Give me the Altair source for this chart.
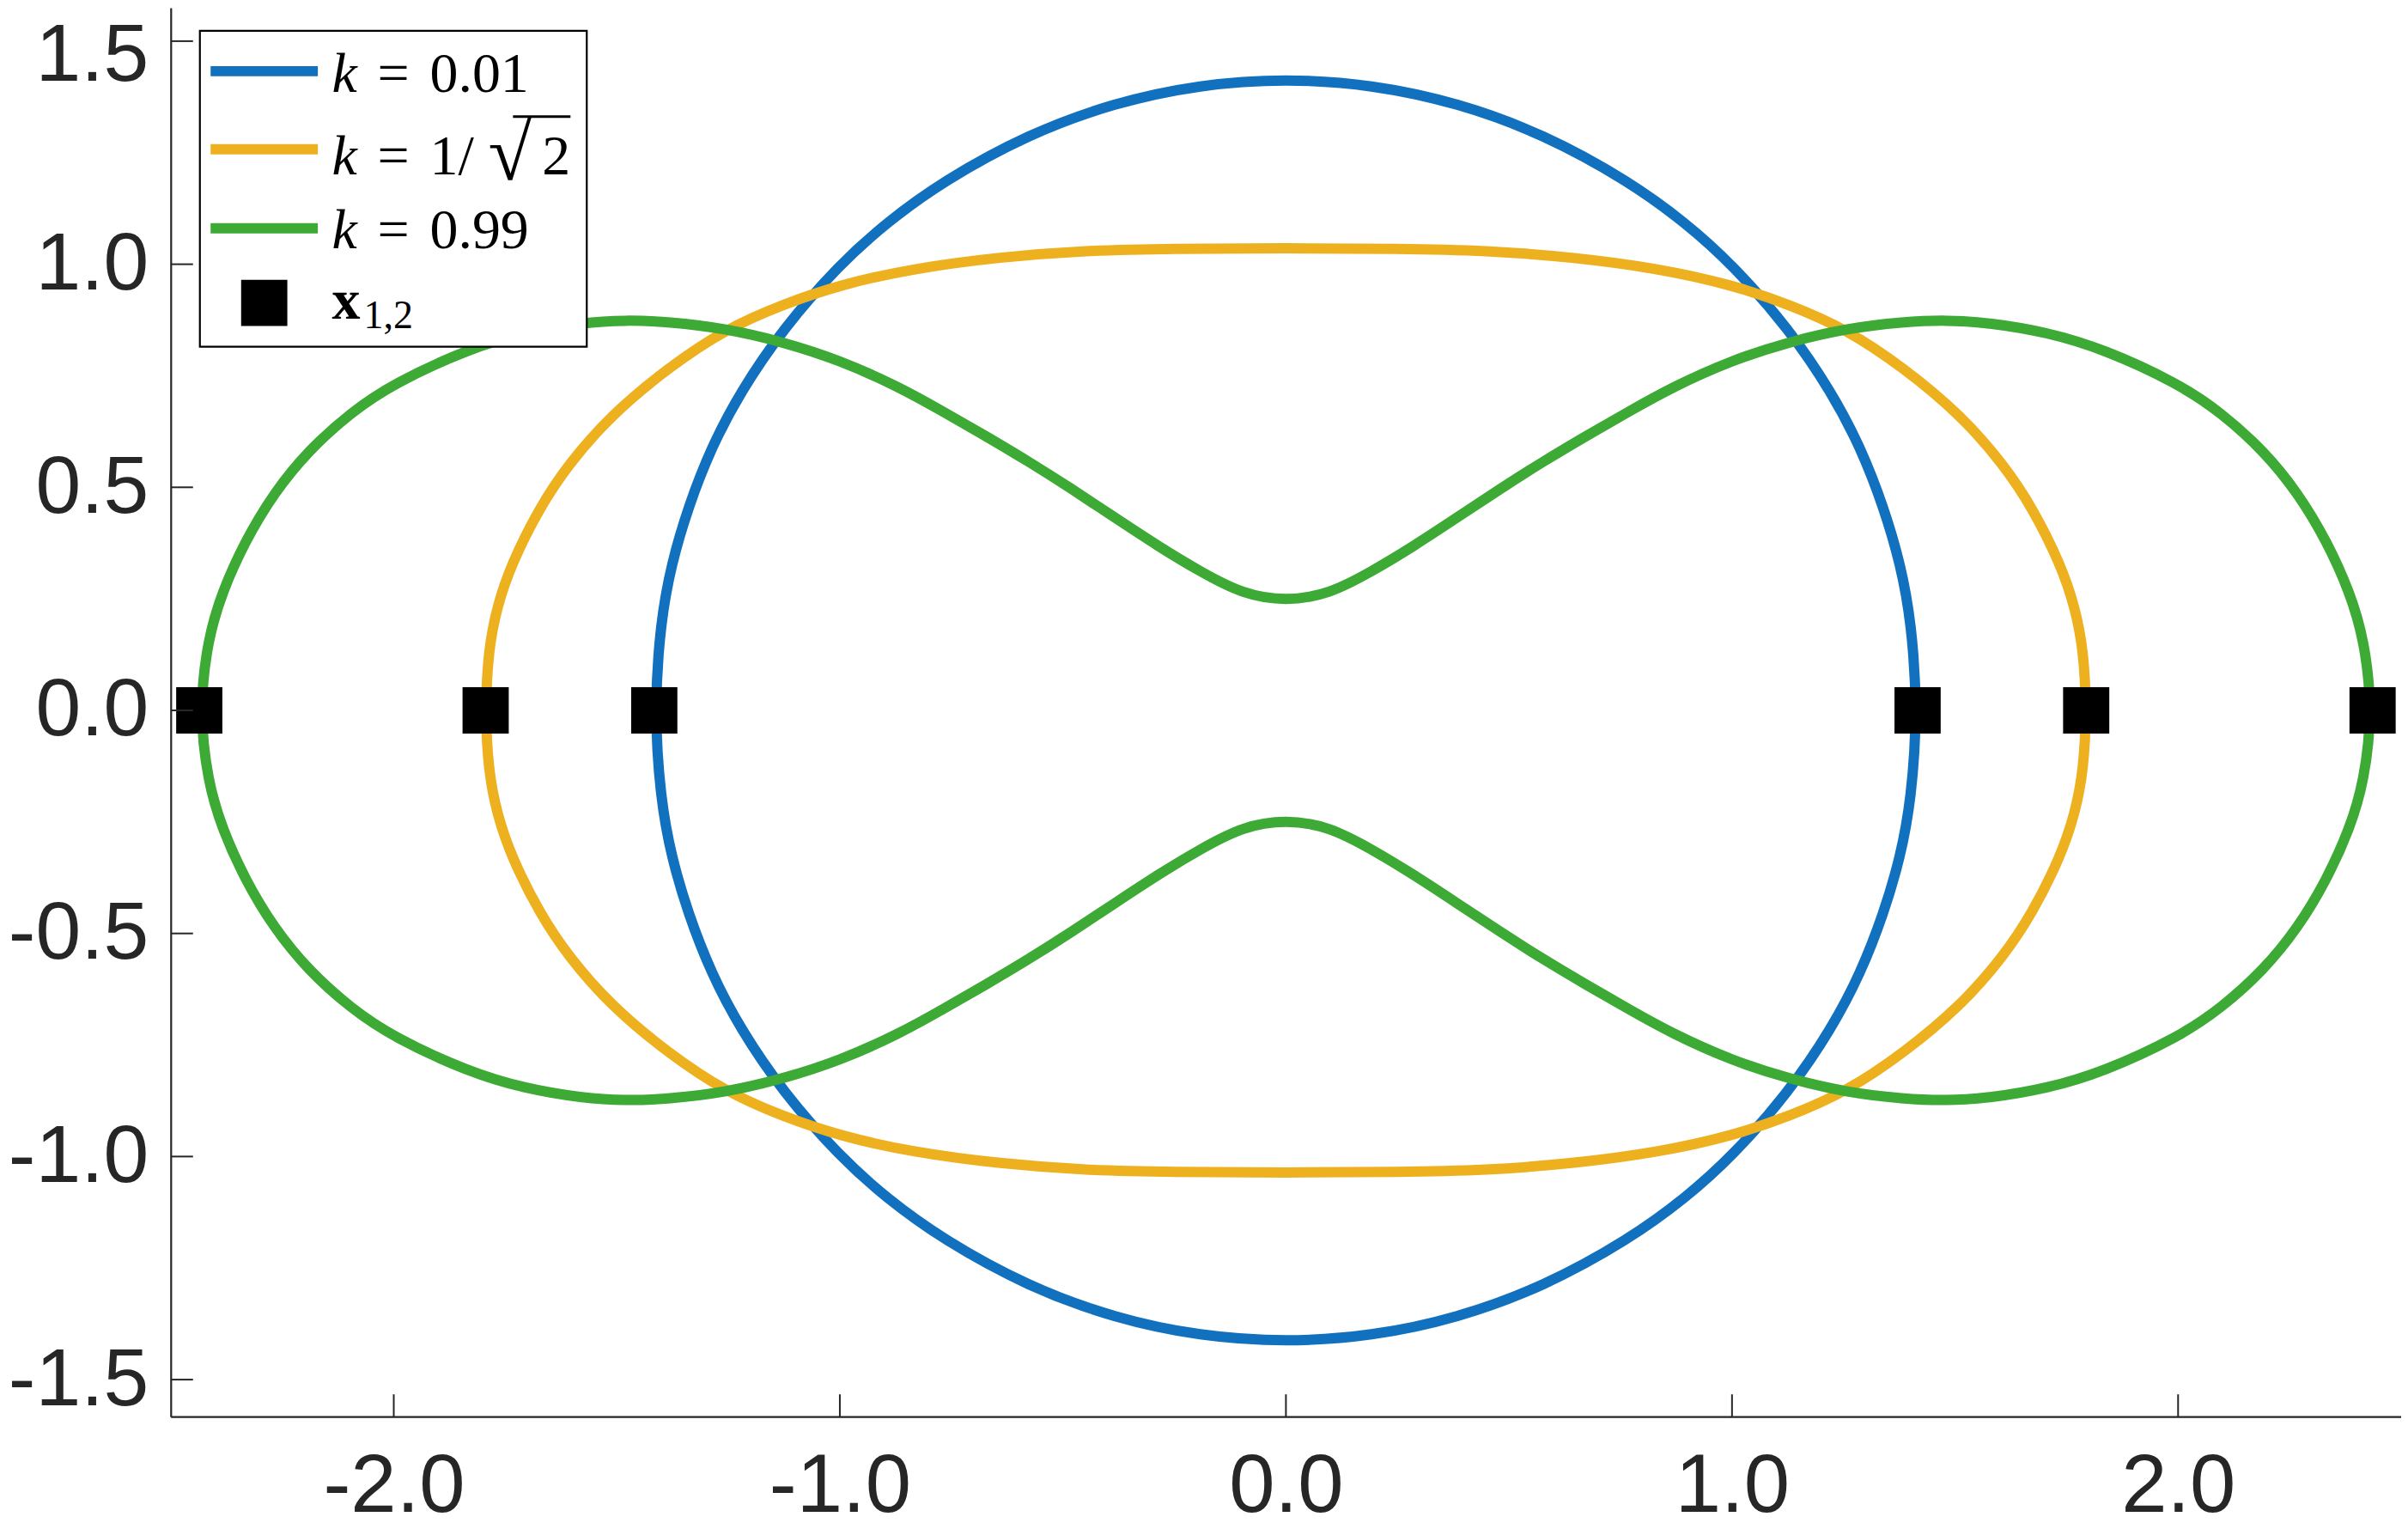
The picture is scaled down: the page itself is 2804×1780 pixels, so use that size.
import altair as alt
import pandas as pd

# ---- curve data, closed loops ----
BLUE_X = [1.416, 1.402, 1.378, 1.340, 1.288, 1.224, 1.128, 1.000, 0.897, 0.769, 0.577, 0.385, 0.192, 0.000,
          -0.192, -0.385, -0.577, -0.769, -0.897, -1.000, -1.128, -1.224, -1.288, -1.340, -1.378, -1.402,
          -1.416, -1.402, -1.378, -1.340, -1.288, -1.224, -1.128, -1.000, -0.897, -0.769, -0.577, -0.385, -0.192, 0.000,
          0.192, 0.385, 0.577, 0.769, 0.897, 1.000, 1.128, 1.224, 1.288, 1.340, 1.378, 1.402]
BLUE_Y = [0.000, 0.199, 0.327, 0.456, 0.590, 0.712, 0.855, 1.000, 1.092, 1.186, 1.292, 1.362, 1.403, 1.416,
          1.403, 1.362, 1.292, 1.186, 1.092, 1.000, 0.855, 0.712, 0.590, 0.456, 0.327, 0.199,
          0.000, -0.199, -0.327, -0.456, -0.590, -0.712, -0.855, -1.000, -1.092, -1.186, -1.292, -1.362, -1.403, -1.416,
          -1.403, -1.362, -1.292, -1.186, -1.092, -1.000, -0.855, -0.712, -0.590, -0.456, -0.327, -0.199]

ORANGE_X = [1.795, 1.788, 1.769, 1.737, 1.673, 1.609, 1.513, 1.385, 1.256, 1.128, 1.000, 0.833, 0.641, 0.449, 0.256, 0.000,
            -0.256, -0.449, -0.641, -0.833, -1.000, -1.128, -1.256, -1.385, -1.513, -1.609, -1.673, -1.737, -1.769, -1.788,
            -1.795, -1.788, -1.769, -1.737, -1.673, -1.609, -1.513, -1.385, -1.256, -1.128, -1.000, -0.833, -0.641, -0.449, -0.256, 0.000,
            0.256, 0.449, 0.641, 0.833, 1.000, 1.128, 1.256, 1.385, 1.513, 1.609, 1.673, 1.737, 1.769, 1.788]
ORANGE_Y = [0.000, 0.135, 0.231, 0.327, 0.455, 0.551, 0.662, 0.768, 0.855, 0.910, 0.954, 0.991, 1.016, 1.031, 1.035, 1.036,
            1.035, 1.031, 1.016, 0.991, 0.954, 0.910, 0.855, 0.768, 0.662, 0.551, 0.455, 0.327, 0.231, 0.135,
            0.000, -0.135, -0.231, -0.327, -0.455, -0.551, -0.662, -0.768, -0.855, -0.910, -0.954, -0.991, -1.016, -1.031, -1.035, -1.036,
            -1.035, -1.031, -1.016, -0.991, -0.954, -0.910, -0.855, -0.768, -0.662, -0.551, -0.455, -0.327, -0.231, -0.135]

GREEN_X = [2.436, 2.417, 2.385, 2.333, 2.269, 2.192, 2.096, 2.000, 1.833, 1.705, 1.577, 1.481, 1.385, 1.256, 1.128, 1.000,
           0.865, 0.769, 0.673, 0.577, 0.481, 0.385, 0.288, 0.192, 0.096, 0.000,
           -0.096, -0.192, -0.288, -0.385, -0.481, -0.577, -0.673, -0.769, -0.865,
           -1.000, -1.128, -1.256, -1.385, -1.481, -1.577, -1.705, -1.833, -2.000, -2.096, -2.192, -2.269, -2.333, -2.385, -2.417,
           -2.436, -2.417, -2.385, -2.333, -2.269, -2.192, -2.096, -2.000, -1.833, -1.705, -1.577, -1.481, -1.385, -1.256, -1.128, -1.000,
           -0.865, -0.769, -0.673, -0.577, -0.481, -0.385, -0.288, -0.192, -0.096, 0.000,
           0.096, 0.192, 0.288, 0.385, 0.481, 0.577, 0.673, 0.769, 0.865,
           1.000, 1.128, 1.256, 1.385, 1.481, 1.577, 1.705, 1.833, 2.000, 2.096, 2.192, 2.269, 2.333, 2.385, 2.417]
GREEN_Y = [0.000, 0.160, 0.265, 0.380, 0.487, 0.582, 0.668, 0.733, 0.810, 0.848, 0.869, 0.875, 0.871, 0.856, 0.826, 0.785,
           0.724, 0.670, 0.615, 0.558, 0.497, 0.433, 0.369, 0.311, 0.260, 0.245,
           0.260, 0.311, 0.369, 0.433, 0.497, 0.558, 0.615, 0.670, 0.724,
           0.785, 0.826, 0.856, 0.871, 0.875, 0.869, 0.848, 0.810, 0.733, 0.668, 0.582, 0.487, 0.380, 0.265, 0.160,
           0.000, -0.160, -0.265, -0.380, -0.487, -0.582, -0.668, -0.733, -0.810, -0.848, -0.869, -0.875, -0.871, -0.856, -0.826, -0.785,
           -0.724, -0.670, -0.615, -0.558, -0.497, -0.433, -0.369, -0.311, -0.260, -0.245,
           -0.260, -0.311, -0.369, -0.433, -0.497, -0.558, -0.615, -0.670, -0.724,
           -0.785, -0.826, -0.856, -0.871, -0.875, -0.869, -0.848, -0.810, -0.733, -0.668, -0.582, -0.487, -0.380, -0.265, -0.160]

# points x_{1,2}
PTS_X = [-2.436, -1.794, -1.416, 1.416, 1.794, 2.436]
PTS_Y = [0.0, 0.0, 0.0, 0.0, 0.0, 0.0]

SERIES = ["k = 0.01", "k = 1/√2", "k = 0.99"]
COLORS = ["#1271be", "#edb120", "#3caa34"]
LEG_VALUES = ["0.01", "1/", "0.99"]

TICKS_X = [-2, -1, 0, 1, 2]
TICKS_Y = [-1.5, -1.0, -0.5, 0.0, 0.5, 1.0, 1.5]

# ---- layout ----
W, H = 2600, 1642
XDOM = [-2.5, 2.5]
YDOM = [-1.583, 1.575]
AX = "#262626"
LW = 12

xs = alt.Scale(domain=XDOM, nice=False, zero=False)
ys = alt.Scale(domain=YDOM, nice=False, zero=False)
lab_expr = "(datum.value < 0 ? '-' : '') + format(abs(datum.value), '.1f')"
AXX = alt.Axis(values=TICKS_X, labelExpr=lab_expr, title=None, grid=False, ticks=False, tickSize=0,
               labelFontSize=96, labelFont="Liberation Sans", labelColor=AX, domainColor=AX,
               domainWidth=2.2, labelPadding=34, labelFlush=False, labelOverlap=False)
AXY = alt.Axis(values=TICKS_Y, labelExpr=lab_expr, title=None, grid=False, ticks=False, tickSize=0,
               labelFontSize=95, labelFont="Liberation Sans", labelColor=AX, domainColor=AX,
               domainWidth=2.2, labelPadding=26, labelFlush=False, labelOverlap=False,
               labelOffset={"condition": {"test": "datum.value > 1.4", "value": 17}, "value": 0})

curves = [(SERIES[0], BLUE_X, BLUE_Y, COLORS[0]),
          (SERIES[1], ORANGE_X, ORANGE_Y, COLORS[1]),
          (SERIES[2], GREEN_X, GREEN_Y, COLORS[2])]

layers = []
for name, cx, cy, col in curves:
    df = pd.DataFrame({"x": cx, "y": cy, "i": list(range(len(cx))), "s": name})
    layers.append(alt.Chart(df).mark_line(color=col, strokeWidth=LW, interpolate="basis-closed")
                  .encode(x=alt.X("x:Q", scale=xs, axis=AXX), y=alt.Y("y:Q", scale=ys, axis=AXY),
                          order="i:Q"))

pts = pd.DataFrame({"x": PTS_X, "y": PTS_Y})
layers.append(alt.Chart(pts).mark_point(shape="square", filled=True, size=2900, color="black", opacity=1)
              .encode(x=alt.X("x:Q", scale=xs, axis=AXX), y=alt.Y("y:Q", scale=ys, axis=AXY)))

# inward ticks
tx = pd.DataFrame({"v": TICKS_X})
ty = pd.DataFrame({"v": TICKS_Y})
layers.append(alt.Chart(tx).mark_rule(color=AX, strokeWidth=2)
              .encode(x=alt.X("v:Q", scale=xs, axis=AXX), y=alt.value(H), y2=alt.value(H - 26)))
layers.append(alt.Chart(ty).mark_rule(color=AX, strokeWidth=2)
              .encode(y=alt.Y("v:Q", scale=ys, axis=AXY), x=alt.value(0), x2=alt.value(26)))

# ---- legend (pixel layout inside the plot area) ----
ROW_Y = [74, 165, 257]
BASE_Y = [98, 194, 280]
box = pd.DataFrame({"x1": [34], "x2": [485], "y1": [27], "y2": [395]})
layers.append(alt.Chart(box).mark_rect(fill="white", stroke="black", strokeWidth=2.2)
              .encode(x=alt.X("x1:Q", scale=None), x2="x2:Q", y=alt.Y("y1:Q", scale=None), y2="y2:Q"))
leg_lines = pd.DataFrame({"x1": [46.5] * 3, "x2": [171.5] * 3, "y": ROW_Y, "c": COLORS})
layers.append(alt.Chart(leg_lines).mark_rule(strokeWidth=LW)
              .encode(x=alt.X("x1:Q", scale=None), x2="x2:Q", y=alt.Y("y:Q", scale=None),
                      color=alt.Color("c:N", scale=None)))
leg_sq = pd.DataFrame({"x": [109], "y": [344]})
layers.append(alt.Chart(leg_sq).mark_point(shape="square", filled=True, size=2900, color="black", opacity=1)
              .encode(x=alt.X("x:Q", scale=None), y=alt.Y("y:Q", scale=None)))

FS = 66
SERIF = "Liberation Serif"
def txt(df, **kw):
    return (alt.Chart(df).mark_text(align="left", baseline="alphabetic", font=SERIF, color="black", **kw)
            .encode(x=alt.X("x:Q", scale=None), y=alt.Y("y:Q", scale=None), text="t:N"))

layers.append(txt(pd.DataFrame({"x": [188] * 3, "y": BASE_Y, "t": ["k"] * 3}), fontSize=FS, fontStyle="italic"))
layers.append(txt(pd.DataFrame({"x": [241] * 3, "y": BASE_Y, "t": ["="] * 3}), fontSize=FS))
layers.append(txt(pd.DataFrame({"x": [302] * 3, "y": BASE_Y, "t": LEG_VALUES}), fontSize=FS))
layers.append(txt(pd.DataFrame({"x": [370], "y": [200], "t": ["√"]}), fontSize=92))
layers.append(txt(pd.DataFrame({"x": [433], "y": [194], "t": ["2"]}), fontSize=FS))
vinc = pd.DataFrame({"x1": [399], "x2": [466], "y": [127]})
layers.append(alt.Chart(vinc).mark_rule(color="black", strokeWidth=3)
              .encode(x=alt.X("x1:Q", scale=None), x2="x2:Q", y=alt.Y("y:Q", scale=None)))
layers.append(txt(pd.DataFrame({"x": [188], "y": [362], "t": ["x"]}), fontSize=FS, fontWeight="bold"))
layers.append(txt(pd.DataFrame({"x": [225], "y": [373], "t": ["1,2"]}), fontSize=46))

chart = (alt.layer(*layers)
         .properties(width=W, height=H,
                     autosize=alt.AutoSizeParams(type="none"),
                     padding={"left": 191, "top": 0, "right": 0, "bottom": 130},
                     background="white")
         .configure_view(stroke=None))

chart.save("out.html", embed_options={"renderer": "svg", "actions": False})
